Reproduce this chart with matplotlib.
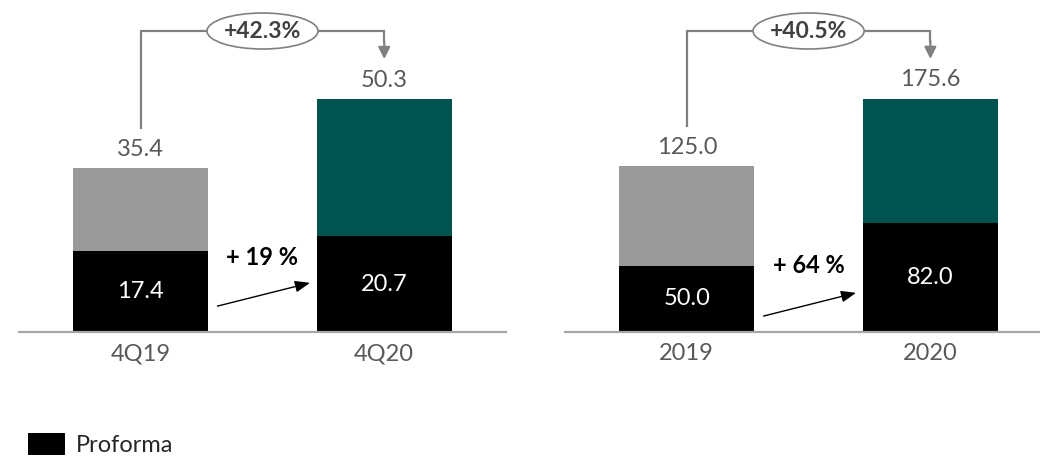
import matplotlib
matplotlib.use('Agg')
import matplotlib.pyplot as plt
from matplotlib.patches import Ellipse, Patch

plt.rcParams['font.family'] = ['Lato', 'DejaVu Sans']

# --------------------------------------------------------------------------------------
# Data

quarter_labels   = ['4Q19', '4Q20']
quarter_proforma = [17.4, 20.7]
quarter_total    = [35.4, 50.3]
quarter_growth   = '+42.3%'
quarter_pf_growth = '+ 19 %'

year_labels      = ['2019', '2020']
year_proforma    = [50.0, 82.0]
year_total       = [125.0, 175.6]
year_growth      = '+40.5%'
year_pf_growth   = '+ 64 %'

legend_label     = 'Proforma'

# --------------------------------------------------------------------------------------
# Styles

grey      = '#999999'
teal      = '#005450'
txtgrey   = '#595959'
linegrey  = '#808080'
basegrey  = '#A6A6A6'
fs        = 17

W, H = 1040, 457
fig = plt.figure(figsize=(W / 100, H / 100), dpi=100)


def draw_panel(ax, cats, proforma, total, ymax, xmax, growth, pf_growth, arrow_y, text_y):
    x = range(len(cats))
    top = [t - p for t, p in zip(total, proforma)]
    ax.bar(x, proforma, width=0.555, color='black', zorder=2)
    ax.bar(x, top, bottom=proforma, width=0.555, color=[grey, teal], zorder=2)

    ax.set_xlim(-0.5, xmax)
    ax.set_ylim(0, ymax)

    # value labels
    for i in x:
        ax.annotate(f'{total[i]:.1f}', (i, total[i]), xytext=(0, 6), textcoords='offset points',
                    ha='center', va='bottom', fontsize=fs, color=txtgrey)
        ax.text(i, proforma[i] / 2, f'{proforma[i]:.1f}', ha='center', va='center',
                fontsize=fs, color='white')

    # bracket with total growth
    yb = 0.9066 * ymax
    gap = 0.12 * ymax
    ax.plot([0, 0, 1, 1], [total[0] + gap, yb, yb, yb - 0.03 * ymax],
            color=linegrey, lw=1.6, zorder=1, clip_on=False, solid_joinstyle='miter')
    ax.annotate('', xy=(1, total[1] + gap), xytext=(1, yb - 0.03 * ymax),
                arrowprops=dict(arrowstyle='-|>,head_length=0.7,head_width=0.35',
                                color=linegrey, lw=1.6, shrinkA=0, shrinkB=0))
    ell = Ellipse((0.5, yb), width=111 / 243.5, height=36 / 332 * ymax,
                  facecolor='white', edgecolor=linegrey, lw=1.2, zorder=3, clip_on=False)
    ax.add_patch(ell)
    ax.text(0.5, yb, growth, ha='center', va='center', fontsize=16.5, fontweight='bold',
            color='#404040', zorder=4)

    # proforma growth arrow
    ax.annotate('', xy=(0.695, arrow_y[1] * ymax), xytext=(0.315, arrow_y[0] * ymax),
                arrowprops=dict(arrowstyle='-|>,head_length=0.9,head_width=0.35',
                                color='black', lw=1.0, shrinkA=0, shrinkB=0))
    ax.text(0.5, text_y * ymax, pf_growth, ha='center', va='center', fontsize=fs,
            fontweight='bold', color='black')

    # axes
    for s in ['top', 'right', 'left']:
        ax.spines[s].set_visible(False)
    ax.spines['bottom'].set_color(basegrey)
    ax.spines['bottom'].set_linewidth(1.6)
    ax.set_yticks([])
    ax.set_xticks(list(x))
    ax.set_xticklabels(cats, fontsize=fs, color=txtgrey)
    ax.tick_params(axis='x', length=0, pad=8)


ax1 = fig.add_axes([19 / W, 125 / H, 487 / W, 332 / H])
draw_panel(ax1, quarter_labels, quarter_proforma, quarter_total, 71.66, 1.5,
           quarter_growth, quarter_pf_growth, (0.078, 0.148), 0.223)

ax2 = fig.add_axes([565 / W, 125 / H, 475 / W, 332 / H])
draw_panel(ax2, year_labels, year_proforma, year_total, 250.0, 1.45,
           year_growth, year_pf_growth, (0.048, 0.118), 0.199)

# legend
fig.legend(handles=[Patch(facecolor='black', label=legend_label)], loc='lower left',
           bbox_to_anchor=(7 / W, -20 / H), frameon=False, fontsize=fs,
           handlelength=1.55, handleheight=1.05, handletextpad=0.45, labelcolor='#262626')

fig.savefig('out.png', dpi=100)
